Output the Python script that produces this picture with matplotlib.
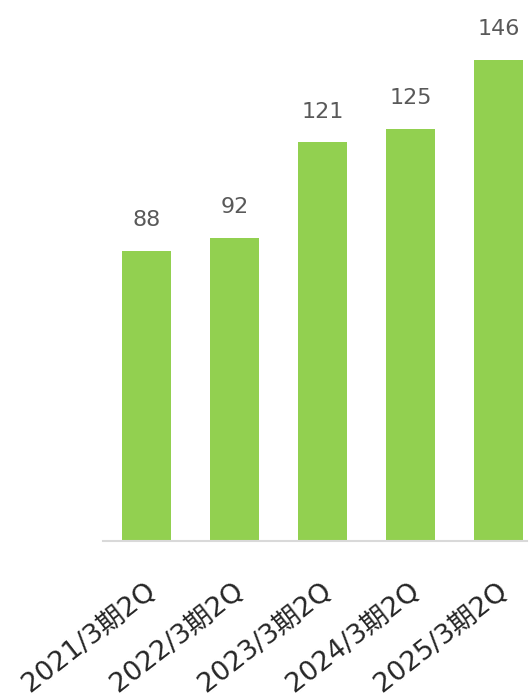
import matplotlib
matplotlib.use("Agg")
import matplotlib.pyplot as plt
import matplotlib.transforms as mtransforms

categories = ["2021/3期2Q", "2022/3期2Q", "2023/3期2Q", "2024/3期2Q", "2025/3期2Q"]
values = [88, 92, 121, 125, 146]

plt.rcParams['font.family'] = ['DejaVu Sans', 'Noto Sans CJK JP']

fig = plt.figure(figsize=(5.29, 6.96), dpi=100)
ax = fig.add_axes([103/529, (696-541)/696, 424/529, 541/696])
x = list(range(len(categories)))
ax.bar(x, values, width=0.557, color="#92D050")
ax.set_xlim(-0.494, 4.324)
ax.set_ylim(0, 164.2)

for xi, v in zip(x, values):
    ax.annotate(str(v), (xi, v), xytext=(0, 15), textcoords="offset points",
                ha="center", va="bottom", fontsize=16, color="#595959")

for s in ["top", "right", "left"]:
    ax.spines[s].set_visible(False)
ax.spines["bottom"].set_color("#D9D9D9")
ax.spines["bottom"].set_linewidth(1.5)
ax.set_yticks([])
ax.set_xticks(x)
ax.set_xticklabels(categories, rotation=38, ha="right", va="center",
                   rotation_mode="anchor", fontsize=19.5, color="#262626",
                   family=['DejaVu Sans', 'Noto Sans CJK JP'])
ax.tick_params(axis="x", length=0, pad=0)
offset = mtransforms.ScaledTranslation(6/100, -47/100, fig.dpi_scale_trans)
for lbl in ax.get_xticklabels():
    lbl.set_transform(lbl.get_transform() + offset)

fig.savefig("out.png", dpi=100)
